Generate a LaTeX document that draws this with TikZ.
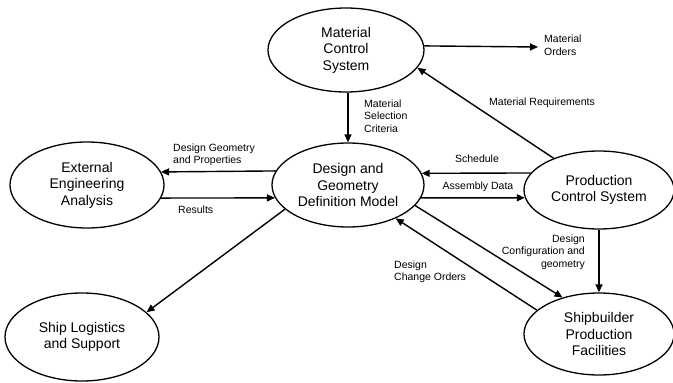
\documentclass[tikz,border=0pt]{standalone}
\usepackage{fontspec}
\setmainfont{Liberation Sans}
\usetikzlibrary{shapes.geometric,arrows.meta,calc}

\tikzset{
  proc/.style={ellipse, draw, line width=1.3pt, inner sep=0pt, align=center,
               font=\fontsize{14}{16.5}\selectfont},
  flow/.style={line width=1.4pt, -{Triangle[length=8pt,width=7pt]}},
  lbl/.style={font=\fontsize{10.5}{12.5}\selectfont, inner sep=0pt, align=left},
}

\begin{document}
\begin{tikzpicture}[x=1pt,y=-1pt]
\useasboundingbox (0,0) rectangle (673,383);

% processes
\node[proc, minimum width=156pt, minimum height=84pt] (mcs) at (346,50) {Material\\Control\\System};
\node[proc, minimum width=154pt, minimum height=86pt] (ext) at (87,185) {External\\Engineering\\Analysis};
\node[proc, minimum width=152pt, minimum height=84pt] (dgm) at (348,185) {Design and\\Geometry\\Definition Model};
\node[proc, minimum width=150pt, minimum height=78pt] (pcs) at (599,190) {Production\\Control System};
\node[proc, minimum width=150pt, minimum height=82pt] (sbp) at (599,334) {Shipbuilder\\Production\\Facilities};
\node[proc, minimum width=154pt, minimum height=88pt] (slg) at (82,337) {Ship Logistics\\and Support};

\coordinate (orders) at (538,47);

% flows
\draw[flow] (mcs.3) -- (orders);
\draw[flow] (dgm.north |- mcs.south) -- (dgm.north);
\draw[flow] (pcs.145) -- (mcs.-14);
\draw[flow] (dgm.169.8) -- (ext.10);
\draw[flow] (ext.-10) -- (dgm.190.2);
\draw[flow] (pcs.166) -- (dgm.9.4);
\draw[flow] (dgm.-10.2) -- (pcs.186.2);
\draw[flow] (dgm.201.6) -- (slg.21.6);
\draw[flow] (dgm.-17.4) -- (sbp.135);
\draw[flow] (sbp.159.6) -- (dgm.-35.5);
\draw[flow] (pcs.south) -- (sbp.north);

% flow labels
\node[lbl, anchor=west] (lorders) at (544,45) {Material\\Orders};
\node[lbl, anchor=west] (lcrit) at (364,116) {Material\\Selection\\Criteria};
\node[lbl] (lreq) at (542,103) {Material Requirements};
\node[lbl, anchor=west] (lgeom) at (173,155) {Design Geometry\\and Properties};
\node[lbl, anchor=west] (lres) at (178,210) {Results};
\node[lbl] (lsched) at (477,159) {Schedule};
\node[lbl] (lasm) at (478,187) {Assembly Data};
\node[lbl, anchor=west] (lchg) at (394,272) {Design\\Change Orders};
\node[lbl, anchor=east, align=right] (lconf) at (585,252) {Design\\Configuration and\\geometry};
\end{tikzpicture}
\end{document}
